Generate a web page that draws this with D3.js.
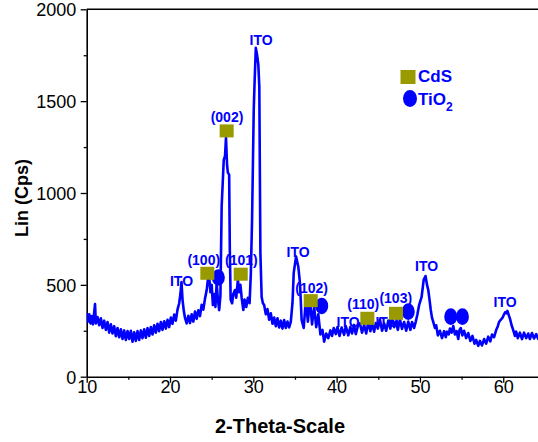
<!DOCTYPE html>
<html>
<head>
<meta charset="utf-8">
<script src="https://cdn.jsdelivr.net/npm/d3@7"></script>
<style>
  body { margin: 0; background: #fff; }
  text { font-family: Arial, "Liberation Sans", sans-serif; }
</style>
</head>
<body>
<div id="chart"></div>
<script>
// XRD pattern (2-theta, counts)
const twoTheta = [
  10.0, 10.15, 10.3, 10.45, 10.6, 10.75, 10.9, 11.0, 11.1, 11.3, 11.5, 11.7, 11.9, 12.1, 12.3, 12.5, 12.7, 12.9,
  13.1, 13.3, 13.5, 13.7, 13.9, 14.1, 14.3, 14.5, 14.7, 14.9, 15.1, 15.3, 15.5, 15.7, 15.9, 16.1, 16.3, 16.5,
  16.7, 16.9, 17.1, 17.3, 17.5, 17.7, 17.9, 18.1, 18.3, 18.5, 18.7, 18.9, 19.1, 19.3, 19.5, 19.7, 19.9, 20.1,
  20.3, 20.5, 20.7, 20.9, 21.1, 21.25, 21.38, 21.5, 21.65, 21.8, 22.0, 22.2, 22.4, 22.6, 22.8, 23.0, 23.2, 23.4,
  23.6, 23.8, 24.0, 24.2, 24.4, 24.55, 24.7, 24.85, 25.0, 25.15, 25.3, 25.45, 25.6, 25.75, 25.9, 26.05, 26.2,
  26.45, 26.6, 26.72, 26.85, 26.95, 27.1, 27.18, 27.28, 27.45, 27.6, 27.8, 27.95, 28.15, 28.3, 28.45, 28.6,
  28.8, 28.95, 29.15, 29.35, 29.55, 29.7, 29.85, 30.05, 30.15, 30.3, 30.45, 30.6, 30.72, 30.85, 31.0, 31.15,
  31.3, 31.5, 31.7, 31.9, 32.1, 32.3, 32.5, 32.7, 32.9, 33.1, 33.3, 33.5, 33.7, 33.9, 34.1, 34.3, 34.5, 34.7,
  34.85, 35.13, 35.4, 35.6, 35.8, 36.05, 36.3, 36.55, 36.8, 37.05, 37.3, 37.55, 37.8, 38.05, 38.3, 38.5, 38.75,
  39.0, 39.25, 39.45, 39.65, 39.9, 40.1, 40.35, 40.6, 40.9, 41.1, 41.4, 41.65, 41.85, 42.1, 42.3, 42.55, 42.8,
  43.05, 43.3, 43.55, 43.8, 44.05, 44.25, 44.5, 44.7, 44.95, 45.2, 45.45, 45.7, 45.95, 46.2, 46.45, 46.65, 46.9,
  47.1, 47.35, 47.6, 47.85, 48.1, 48.35, 48.6, 48.85, 49.05, 49.3, 49.5, 49.7, 49.9, 50.2, 50.45, 50.67, 50.85,
  51.0, 51.15, 51.3, 51.45, 51.6, 51.8, 51.95, 52.15, 52.4, 52.65, 52.9, 53.1, 53.25, 53.45, 53.6, 53.8, 54.0,
  54.2, 54.4, 54.6, 54.75, 54.9, 55.1, 55.3, 55.55, 55.8, 56.05, 56.3, 56.55, 56.75, 57.0, 57.2, 57.45, 57.7,
  57.95, 58.2, 58.45, 58.65, 58.9, 59.15, 59.35, 59.5, 59.7, 59.9, 60.1, 60.25, 60.4, 60.5, 60.7, 60.85, 61.0,
  61.2, 61.4, 61.55, 61.75, 62.0, 62.25, 62.5, 62.75, 63.0, 63.2, 63.45, 63.7, 63.95, 64.2, 64.4, 64.7, 65.0
];
const counts = [
  347, 300, 340, 290, 330, 285, 350, 395, 290, 325, 280, 318, 265, 305, 255, 298, 240, 285,
  235, 275, 220, 265, 215, 258, 205, 252, 200, 248, 205, 250, 190, 242, 195, 248, 200, 252,
  210, 258, 212, 265, 222, 270, 230, 280, 240, 288, 248, 298, 255, 302, 262, 310, 270, 322,
  288, 338, 305, 365, 400, 450, 515, 420, 360, 320, 290, 332, 292, 340, 300, 355, 315, 362,
  330, 392, 365, 425, 470, 530, 545, 460, 500, 390, 450, 380, 510, 420, 362, 440, 925,
  1180, 1200, 1300, 1150, 1110, 1100, 690, 420, 400, 450, 472, 430, 527, 460, 500, 430,
  363, 420, 380, 430, 400, 560, 854, 1450, 1600, 1790, 1752, 1700, 1578, 674, 434, 400,
  390, 340, 368, 310, 345, 288, 322, 275, 318, 268, 305, 262, 308, 265, 300, 268, 300, 400,
  565, 654, 599, 510, 309, 265, 418, 300, 418, 285, 381, 270, 340, 230, 255, 191, 235,
  210, 252, 222, 265, 232, 270, 222, 268, 228, 275, 225, 272, 235, 282, 232, 276, 290,
  240, 282, 235, 298, 248, 290, 245, 292, 262, 312, 250, 290, 250, 305, 262, 330, 270,
  300, 255, 312, 260, 298, 250, 300, 255, 298, 265, 300, 340, 390, 434, 527, 548, 500,
  472, 420, 363, 320, 298, 265, 280, 225, 250, 210, 248, 215, 245, 230, 262, 240, 276,
  230, 248, 205, 255, 265, 225, 250, 210, 238, 195, 222, 180, 200, 168, 195, 170, 205,
  180, 218, 192, 230, 215, 254, 275, 298, 310, 320, 340, 352, 345, 358, 330, 309, 280,
  254, 222, 245, 210, 240, 205, 240, 210, 235, 205, 238, 208, 232, 205, 235, 212, 225
];

// phase markers
const cdsTheta = [24.48, 26.8, 28.49, 36.89, 43.69, 47.13];
const cdsCounts = [563, 1338, 558, 414, 318, 345];
const tioTheta = [25.8, 38.21, 48.6, 53.7, 55.1];
const tioCounts = [540, 385, 354, 327, 327];

// peak annotations (anchored in data units)
const peakLabels = ["ITO", "(100)", "(002)", "ITO", "(101)", "ITO", "(102)", "ITO", "(110)", "ITO", "(103)", "ITO", "ITO"];
const labelTheta = [21.38, 24.05, 26.84, 30.93, 28.56, 35.37, 37.0, 41.37, 43.2, 46.05, 47.1, 50.8, 60.22];
const labelCounts = [494, 609, 1388, 1807, 609, 654, 454, 272, 367, 272, 400, 577, 381];

const xTicks = [10, 20, 30, 40, 50, 60];
const yTicks = [0, 500, 1000, 1500, 2000];

const config = {
  width: 538,
  height: 442,
  left: 86.7,
  right: 544.9,
  top: 9.3,
  bottom: 376.7,
  blue: "#0000ff",
  olive: "#999900"
};

const svg = d3.select("#chart")
  .append("svg")
  .attr("width", config.width)
  .attr("height", config.height);

const xScale = d3.scaleLinear()
  .domain([10, 65])
  .range([config.left, config.right]);

const yScale = d3.scaleLinear()
  .domain([0, 2000])
  .range([config.bottom, config.top]);

// minor ticks first so the major ones sit on top
svg.append("g")
  .attr("transform", "translate(0," + config.bottom + ")")
  .call(d3.axisBottom(xScale).tickValues([15, 25, 35, 45, 55, 65]).tickSize(3).tickFormat(""))
  .call(g => g.select(".domain").remove());

svg.append("g")
  .attr("transform", "translate(" + config.left + ",0)")
  .call(d3.axisLeft(yScale).tickValues([250, 750, 1250, 1750]).tickSize(3).tickFormat(""))
  .call(g => g.select(".domain").remove());

const xAxis = svg.append("g")
  .attr("transform", "translate(0," + config.bottom + ")")
  .call(d3.axisBottom(xScale).tickValues(xTicks).tickSize(6).tickSizeOuter(0).tickFormat(d3.format("d")));

const yAxis = svg.append("g")
  .attr("transform", "translate(" + config.left + ",0)")
  .call(d3.axisLeft(yScale).tickValues(yTicks).tickSize(6).tickSizeOuter(0).tickFormat(d3.format("d")));

svg.selectAll(".tick line").attr("stroke", "#000").attr("stroke-width", 1.3);
svg.selectAll(".domain").attr("stroke", "#000").attr("stroke-width", 1.6);

xAxis.selectAll("text")
  .attr("dy", 0)
  .attr("y", 16.6)
  .style("font-size", "18px")
  .attr("fill", "#000");

yAxis.selectAll("text")
  .attr("x", -10.5)
  .attr("dy", "0.35em")
  .style("font-size", "18px")
  .attr("fill", "#000");

// top frame line
svg.append("line")
  .attr("x1", config.left)
  .attr("x2", config.width)
  .attr("y1", config.top)
  .attr("y2", config.top)
  .attr("stroke", "#000")
  .attr("stroke-width", 1.6);

// clip the trace to the plot area
svg.append("clipPath")
  .attr("id", "plot-clip")
  .append("rect")
  .attr("x", config.left)
  .attr("y", config.top)
  .attr("width", config.right - config.left)
  .attr("height", config.bottom - config.top);

const points = twoTheta.map((t, i) => [t, counts[i]]);

const line = d3.line()
  .x(d => xScale(d[0]))
  .y(d => yScale(d[1]));

svg.append("path")
  .datum(points)
  .attr("clip-path", "url(#plot-clip)")
  .attr("d", line)
  .attr("fill", "none")
  .attr("stroke", config.blue)
  .attr("stroke-width", 2.6)
  .attr("stroke-linejoin", "round");

// peak labels
svg.append("g")
  .selectAll("text")
  .data(peakLabels)
  .enter().append("text")
  .attr("x", (d, i) => xScale(labelTheta[i]))
  .attr("y", (d, i) => yScale(labelCounts[i]))
  .attr("text-anchor", "middle")
  .style("font-size", "14px")
  .style("font-weight", "bold")
  .attr("fill", config.blue)
  .text(d => d);

// TiO2 markers
svg.append("g")
  .selectAll("ellipse")
  .data(tioTheta)
  .enter().append("ellipse")
  .attr("cx", d => xScale(d))
  .attr("cy", (d, i) => yScale(tioCounts[i]))
  .attr("rx", 6.5)
  .attr("ry", 8.3)
  .attr("fill", config.blue);

// CdS markers
svg.append("g")
  .selectAll("rect")
  .data(cdsTheta)
  .enter().append("rect")
  .attr("x", d => xScale(d) - 7)
  .attr("y", (d, i) => yScale(cdsCounts[i]) - 6.5)
  .attr("width", 14)
  .attr("height", 13)
  .attr("fill", config.olive);

// legend
const legend = svg.append("g").attr("transform", "translate(408,77)");

legend.append("rect")
  .attr("x", -7.5)
  .attr("y", -7)
  .attr("width", 15)
  .attr("height", 14)
  .attr("fill", config.olive);

legend.append("text")
  .attr("x", 10)
  .attr("y", 5)
  .style("font-size", "17px")
  .style("font-weight", "bold")
  .attr("fill", config.blue)
  .text("CdS");

legend.append("ellipse")
  .attr("cx", 2)
  .attr("cy", 21.5)
  .attr("rx", 7)
  .attr("ry", 8.5)
  .attr("fill", config.blue);

const tio = legend.append("text")
  .attr("x", 10)
  .attr("y", 28)
  .style("font-size", "17px")
  .style("font-weight", "bold")
  .attr("fill", config.blue);
tio.append("tspan").text("TiO");
tio.append("tspan")
  .attr("dy", 6)
  .style("font-size", "12px")
  .text("2");

// axis titles
svg.append("text")
  .attr("transform", "translate(28,198) rotate(-90)")
  .attr("text-anchor", "middle")
  .style("font-size", "18px")
  .style("font-weight", "bold")
  .text("Lin (Cps)");

svg.append("text")
  .attr("x", 280)
  .attr("y", 432.5)
  .attr("text-anchor", "middle")
  .style("font-size", "20px")
  .style("font-weight", "bold")
  .text("2-Theta-Scale");
</script>
</body>
</html>
